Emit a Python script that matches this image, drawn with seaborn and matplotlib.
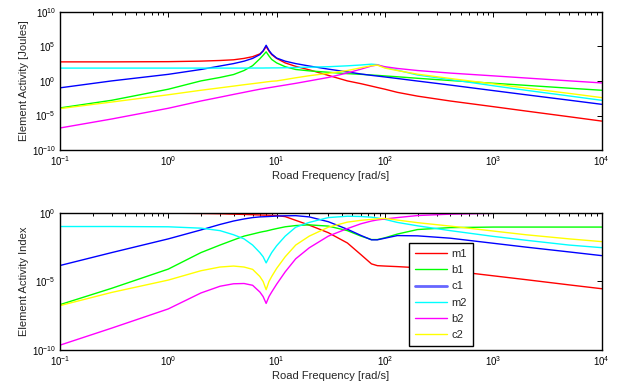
import matplotlib
matplotlib.use('Agg')
import numpy as np
import pandas as pd
import matplotlib.pyplot as plt
import seaborn as sns
from matplotlib.ticker import LogLocator, NullLocator, NullFormatter

# road frequency samples [rad/s]
freq = [0.1, 0.3, 1, 2, 3, 4, 5, 6, 7, 7.5, 8, 8.5, 9, 10, 12, 15, 20, 30,
        45, 60, 75, 85, 100, 130, 200, 400, 1000, 2000, 5000, 10000]

names = ['m1', 'b1', 'c1', 'm2', 'b2', 'c2']
colors = ['#ff0000', '#00ff00', '#0000ff', '#00ffff', '#ff00ff', '#ffff00']

# element activity [Joules], log10 values
act_m1 = [2.75, 2.75, 2.78, 2.86, 2.95, 3.05, 3.25, 3.5, 3.9, 4.3, 4.95, 4.3, 3.8, 3.25, 2.6, 2.1,
          1.6, 0.8, 0.0, -0.4, -0.75, -0.95, -1.2, -1.65, -2.2, -2.9, -3.72, -4.35, -5.17, -5.8]
act_b1 = [-3.9, -2.8, -1.2, 0.0, 0.5, 0.92, 1.5, 2.2, 3.2, 3.7, 4.2, 3.6, 3.1, 2.6, 2.05, 1.65,
          1.45, 1.25, 1.05, 0.95, 0.85, 0.8, 0.72, 0.6, 0.38, 0.06, -0.34, -0.64, -1.05, -1.35]
act_c1 = [-1.0, 0.0, 0.95, 1.65, 2.15, 2.5, 2.85, 3.25, 3.8, 4.35, 5.15, 4.4, 3.9, 3.3, 2.85, 2.5,
          2.15, 1.7, 1.3, 1.0, 0.8, 0.7, 0.57, 0.35, -0.02, -0.6, -1.4, -2.0, -2.78, -3.38]
act_m2 = [1.85, 1.85, 1.85, 1.85, 1.85, 1.85, 1.85, 1.86, 1.86, 1.86, 1.87, 1.87, 1.88, 1.88, 1.9, 1.94,
          1.98, 2.05, 2.18, 2.3, 2.42, 2.35, 1.95, 1.55, 0.85, 0.2, -0.7, -1.35, -2.17, -2.8]
act_b2 = [-6.8, -5.5, -3.95, -2.9, -2.35, -1.95, -1.65, -1.4, -1.2, -1.12, -1.05, -0.98, -0.92, -0.8, -0.6, -0.35,
          0.0, 0.5, 1.15, 1.7, 2.15, 2.3, 2.05, 1.8, 1.5, 1.13, 0.73, 0.42, 0.01, -0.29]
act_c2 = [-4.0, -3.05, -2.0, -1.35, -1.0, -0.75, -0.55, -0.4, -0.27, -0.21, -0.15, -0.1, -0.05, 0.0, 0.2, 0.45,
          0.75, 1.1, 1.5, 1.9, 2.2, 2.28, 1.85, 1.5, 0.97, 0.35, -0.43, -1.03, -1.8, -2.41]

# element activity index, log10 values
idx_m1 = [-0.02, -0.02, -0.03, -0.05, -0.07, -0.1, -0.12, -0.14, -0.16, -0.17, -0.17, -0.18, -0.19, -0.2, -0.28, -0.55,
          -0.9, -1.45, -2.2, -3.05, -3.72, -3.85, -3.88, -3.92, -4.0, -4.22, -4.59, -4.87, -5.25, -5.53]
idx_b1 = [-6.69, -5.5, -4.1, -2.9, -2.35, -1.98, -1.7, -1.55, -1.42, -1.37, -1.33, -1.28, -1.23, -1.15, -1.02, -0.93,
          -0.88, -0.97, -1.3, -1.7, -1.95, -1.95, -1.82, -1.55, -1.22, -1.08, -1.04, -1.04, -1.04, -1.04]
idx_c1 = [-3.84, -2.9, -1.9, -1.25, -0.85, -0.6, -0.45, -0.35, -0.3, -0.29, -0.28, -0.27, -0.26, -0.24, -0.22, -0.21,
          -0.3, -0.65, -1.2, -1.65, -1.97, -1.97, -1.85, -1.66, -1.68, -1.85, -2.22, -2.5, -2.85, -3.12]
idx_m2 = [-1.0, -1.0, -1.02, -1.12, -1.3, -1.6, -1.9, -2.35, -2.9, -3.2, -3.65, -3.25, -2.9, -2.4, -1.7, -1.05,
          -0.7, -0.35, -0.25, -0.27, -0.32, -0.38, -0.48, -0.7, -0.95, -1.3, -1.72, -2.0, -2.35, -2.54]
idx_b2 = [-9.64, -8.4, -7.0, -5.84, -5.35, -5.17, -5.15, -5.28, -5.77, -6.1, -6.6, -6.1, -5.77, -5.2, -4.3, -3.35,
          -2.55, -1.7, -1.15, -0.8, -0.6, -0.52, -0.45, -0.35, -0.2, -0.1, -0.04, -0.02, -0.01, -0.01]
idx_c2 = [-6.76, -5.8, -4.9, -4.22, -3.95, -3.88, -3.95, -4.12, -4.64, -5.0, -5.6, -5.0, -4.64, -4.05, -3.2, -2.35,
          -1.7, -1.05, -0.68, -0.55, -0.48, -0.44, -0.41, -0.53, -0.72, -0.97, -1.33, -1.6, -1.9, -2.1]

activity = [act_m1, act_b1, act_c1, act_m2, act_b2, act_c2]
index = [idx_m1, idx_b1, idx_c1, idx_m2, idx_b2, idx_c2]


def to_long(series):
    rows = []
    for name, vals in zip(names, series):
        for f, v in zip(freq, vals):
            rows.append({'freq': f, 'value': 10.0 ** v, 'element': name})
    return pd.DataFrame(rows)


top_df = to_long(activity)
bot_df = to_long(index)
palette = dict(zip(names, colors))

sns.set_theme(style='white')
plt.rcParams['font.family'] = ['Liberation Sans', 'DejaVu Sans']
plt.rcParams['mathtext.fontset'] = 'custom'
plt.rcParams['mathtext.rm'] = 'Liberation Sans'

fig = plt.figure(figsize=(6.26, 3.89), dpi=100)
ax1 = fig.add_axes([0.0958, 0.614, 0.8653, 0.356])
ax2 = fig.add_axes([0.0958, 0.100, 0.8653, 0.353])

for ax, df in [(ax1, top_df), (ax2, bot_df)]:
    sns.lineplot(data=df, x='freq', y='value', hue='element', hue_order=names,
                 palette=palette, ax=ax, legend=False, linewidth=1.0,
                 estimator=None, sort=False)
    ax.set_xscale('log')
    ax.set_yscale('log')
    ax.set_xlim(0.1, 1e4)
    ax.xaxis.set_major_locator(LogLocator(base=10, numticks=20))
    ax.xaxis.set_minor_locator(LogLocator(base=10, subs=np.arange(2, 10), numticks=100))
    ax.xaxis.set_minor_formatter(NullFormatter())
    ax.yaxis.set_minor_locator(NullLocator())
    ax.tick_params(which='both', direction='in', top=True, right=True,
                   colors='black', labelsize=7, width=0.7)
    ax.tick_params(which='major', length=3.6, pad=3)
    ax.tick_params(which='minor', length=2)
    for sp in ax.spines.values():
        sp.set_visible(True)
        sp.set_color('black')
        sp.set_linewidth(1.0)
    ax.set_xlabel('Road Frequency [rad/s]', fontsize=8, labelpad=2)

ax1.set_ylim(1e-10, 1e10)
ax1.set_yticks([1e-10, 1e-5, 1e0, 1e5, 1e10])
ax1.set_ylabel('Element Activity [Joules]', fontsize=8, labelpad=2)

ax2.set_ylim(1e-10, 1e0)
ax2.set_yticks([1e-10, 1e-5, 1e0])
ax2.set_ylabel('Element Activity Index', fontsize=8, labelpad=2)

handles = ax2.get_lines()[:len(names)]
leg = ax2.legend(handles, names, loc='lower left', bbox_to_anchor=(0.644, 0.031),
                 fontsize=8, frameon=True, fancybox=False, framealpha=1,
                 edgecolor='black', handlelength=2.9, handletextpad=0.4,
                 borderpad=0.55, labelspacing=0.55, borderaxespad=0)
leg.get_frame().set_linewidth(1.0)
leg.legend_handles[2].set_linewidth(2.0)
leg.legend_handles[2].set_alpha(0.6)

fig.savefig('out.png', dpi=100)
